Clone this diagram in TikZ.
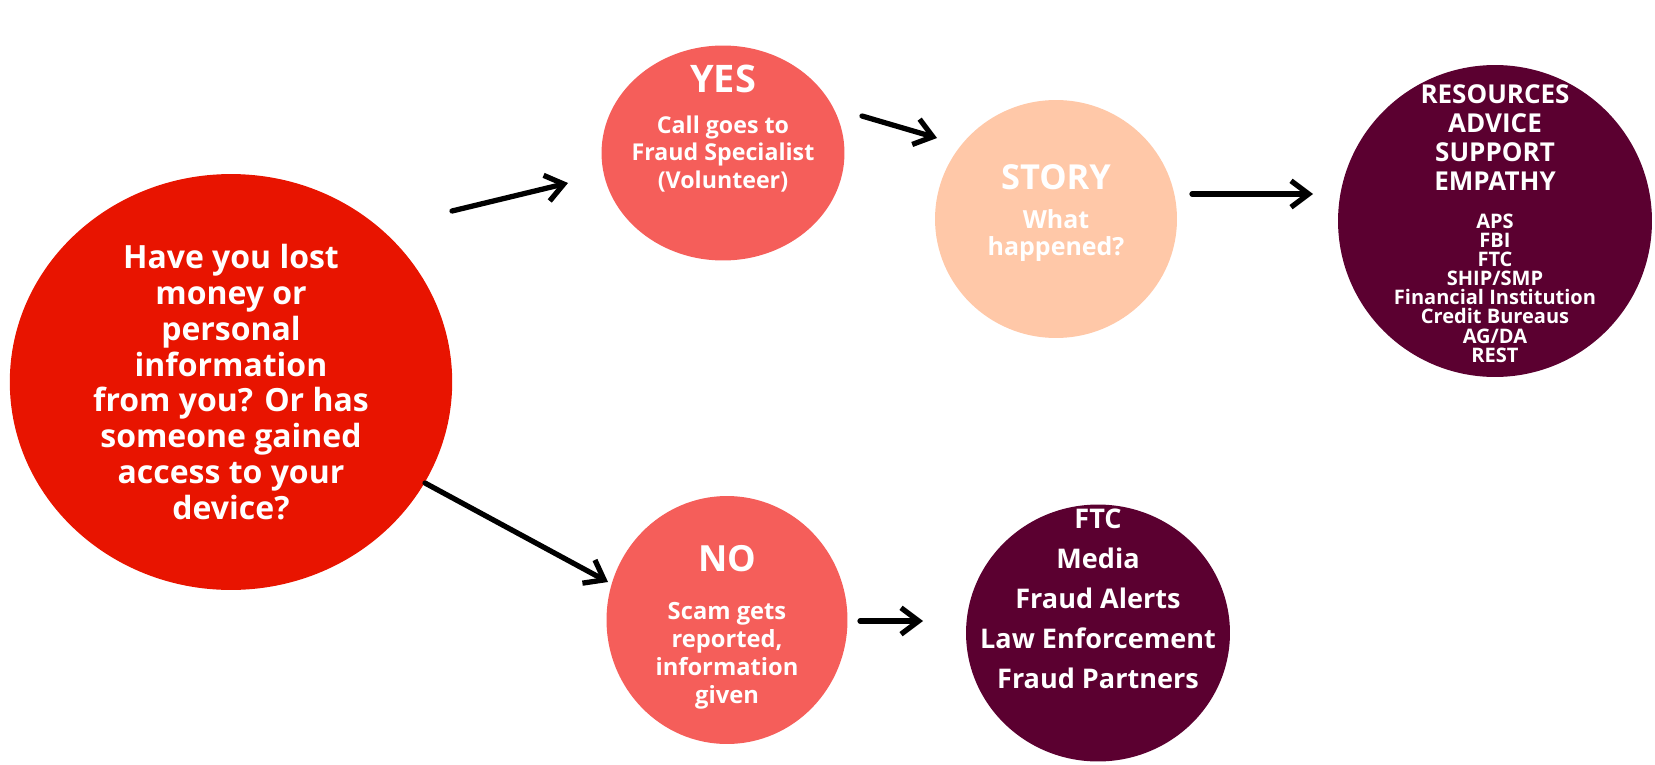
\documentclass[tikz,border=0pt]{standalone}
\usepackage{fontspec}
\setmainfont{Open Sans}
\usetikzlibrary{positioning,shapes.geometric,arrows.meta}

\definecolor{askred}{HTML}{E81400}
\definecolor{coral}{HTML}{F55E5A}
\definecolor{peach}{HTML}{FFC8A8}
\definecolor{wine}{HTML}{5B0030}

\newcommand\fsz[2]{\fontsize{#1}{#2}\selectfont\lineskiplimit=-50pt\relax}

\begin{document}
\begin{tikzpicture}[
  x=0.02cm, y=-0.02cm,
  bubble/.style={ellipse, inner sep=0pt, draw=none},
  words/.style={align=center, text=white, inner sep=0pt},
  flow/.style={-{Straight Barb[length=10pt, width=15pt]}, line width=3pt, line cap=round, line join=round}
]
  \useasboundingbox (0,0) rectangle (1655,764);

  % circles
  \node (ask) at (231,382) [bubble, fill=askred, minimum width=8.85cm, minimum height=8.32cm] {};
  \node (yes) at (723,153) [bubble, fill=coral, minimum width=4.86cm, minimum height=4.3cm] {};
  \node (story) at (1056,219) [bubble, fill=peach, minimum width=4.84cm, minimum height=4.76cm] {};
  \node (help) at (1495,221) [bubble, fill=wine, minimum width=6.28cm, minimum height=6.24cm] {};
  \node (no) at (727,620) [bubble, fill=coral, minimum width=4.82cm, minimum height=4.96cm] {};
  \node (report) at (1098,633) [bubble, fill=wine, minimum width=5.28cm, minimum height=5.14cm] {};

  % texts
  \node (ask-text) at (231,382) [words, font=\bfseries\fsz{18.2pt}{20.4pt}] {
    Have you lost\\money or\\personal\\information\\from you? Or has\\someone gained\\access to your\\device?};
  \node (yes-title) at (723,79) [words, font=\bfseries\fsz{21.6pt}{24pt}] {YES};
  \node (yes-text) at (723,154) [words, font=\bfseries\fsz{13.2pt}{15.9pt}] {
    Call goes to\\Fraud Specialist\\(Volunteer)};
  \node (story-title) at (1056,177) [words, font=\bfseries\fsz{19.6pt}{22pt}] {STORY};
  \node (story-text) at (1056,235.5) [words, font=\bfseries\fsz{14.2pt}{15.9pt}] {
    What\\happened?};
  \node (help-title) at (1495,137.4) [words, font=\bfseries\fsz{14.8pt}{16.5pt}] {
    RESOURCES\\ADVICE\\SUPPORT\\EMPATHY};
  \node (help-list) at (1495,288) [words, font=\bfseries\fsz{11.4pt}{10.9pt}] {
    APS\\FBI\\FTC\\SHIP/SMP\\Financial Institution\\Credit Bureaus\\AG/DA\\REST};
  \node (no-title) at (727,559) [words, font=\bfseries\fsz{20.5pt}{23pt}] {NO};
  \node (no-text) at (727,656) [words, font=\bfseries\fsz{13.5pt}{15.9pt}] {
    Scam gets\\reported,\\information\\given};
  \node (report-list) at (1098,599) [words, font=\bfseries\fsz{15.4pt}{22.8pt}] {
    FTC\\Media\\Fraud Alerts\\Law Enforcement\\Fraud Partners};

  % arrows
  \coordinate (ask-yes-a) at (452,211);
  \coordinate (ask-yes-b) at (568,183);
  \coordinate (yes-story-a) at (862,116);
  \coordinate (yes-story-b) at (937,138);
  \coordinate (story-help-a) at (1192,194);
  \coordinate (story-help-b) at (1313,194);
  \coordinate (ask-no-a) at (425,483);
  \coordinate (ask-no-b) at (608,582);
  \coordinate (no-report-a) at (860,621);
  \coordinate (no-report-b) at (923,621);

  \draw[flow] (ask-yes-a) -- (ask-yes-b);
  \draw[flow] (yes-story-a) -- (yes-story-b);
  \draw[flow] (story-help-a) -- (story-help-b);
  \draw[flow] (ask-no-a) -- (ask-no-b);
  \draw[flow] (no-report-a) -- (no-report-b);
\end{tikzpicture}
\end{document}
